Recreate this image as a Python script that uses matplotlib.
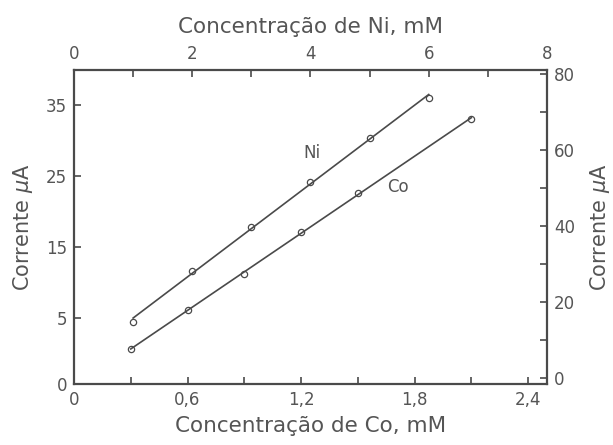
import numpy as np
import matplotlib
matplotlib.use("Agg")
import matplotlib.pyplot as plt

# dados
co_conc = [0.3, 0.6, 0.9, 1.2, 1.5, 2.1]          # mM (eixo inferior)
co_corr = [0.6, 6.1, 11.2, 17.1, 22.6, 33.0]       # uA (eixo esquerdo)
ni_conc = [1, 2, 3, 4, 5, 6]                       # mM (eixo superior)
ni_corr = [14.7, 28.2, 39.7, 51.6, 63.2, 73.7]     # uA (eixo direito)

co_ticks = [0, 0.6, 1.2, 1.8, 2.4]
co_ticklabels = ['0', '0,6', '1,2', '1,8', '2,4']
left_ticks = [5, 15, 25, 35]
ni_ticks = [0, 2, 4, 6, 8]
right_ticks = [0, 20, 40, 60, 80]

gray = '#4a4a4a'
txt = '#555555'
plt.rcParams['font.family'] = 'DejaVu Sans'

fig = plt.figure(figsize=(6.13, 4.45), dpi=100)
pos = [0.1207, 0.1371, 0.7716, 0.7056]
ax = fig.add_axes(pos)
ax2 = fig.add_axes(pos, frameon=False)

# Co: eixo inferior / esquerdo
ax.set_xlim(0, 2.5)
ax.set_ylim(-4.3, 39.9)
ax.plot(co_conc, co_corr, 'o', mfc='white', mec=gray, ms=4.5, mew=0.9)
p = np.polyfit(co_conc, co_corr, 1)
xs = np.array([co_conc[0], co_conc[-1]])
ax.plot(xs, np.polyval(p, xs), color=gray, lw=1.2)

ax.set_xticks(co_ticks)
ax.set_xticklabels(co_ticklabels)
ax.set_xticks([0.3, 0.9, 1.5, 2.1], minor=True)
ax.set_yticks([-4.3] + left_ticks)
ax.set_yticklabels(['0'] + [str(t) for t in left_ticks])
ax.set_xlabel('Concentração de Co, mM', fontsize=15.5, color=txt, labelpad=5)
ax.set_ylabel('Corrente $\\mu$A', fontsize=15, color=txt, labelpad=8)

# Ni: eixo superior / direito
ax2.set_xlim(0, 8)
ax2.set_ylim(-1.6, 81.05)
ax2.plot(ni_conc, ni_corr, 'o', mfc='white', mec=gray, ms=4.5, mew=0.9)
p2 = np.polyfit(ni_conc, ni_corr, 1)
xs2 = np.array([ni_conc[0], ni_conc[-1]])
ax2.plot(xs2, np.polyval(p2, xs2), color=gray, lw=1.2)

ax2.xaxis.set_ticks_position('top')
ax2.xaxis.set_label_position('top')
ax2.yaxis.set_ticks_position('right')
ax2.yaxis.set_label_position('right')
ax2.set_xticks(ni_ticks)
ax2.set_xticks([1, 3, 5, 7], minor=True)
ax2.set_yticks(right_ticks)
ax2.set_yticks([10, 30, 50, 70], minor=True)
ax2.set_xlabel('Concentração de Ni, mM', fontsize=15.5, color=txt, labelpad=9)
ax2.set_ylabel('Corrente $\\mu$A', fontsize=15, color=txt, labelpad=9)

for a in (ax, ax2):
    a.tick_params(which='both', direction='in', length=5, width=1.2,
                  colors=gray, labelsize=12, labelcolor=txt, pad=5)
for s in ax.spines.values():
    s.set_linewidth(1.6)
    s.set_color(gray)

ax.text(0.503, 0.736, 'Ni', transform=ax.transAxes, fontsize=12,
        color=txt, ha='center', va='center')
ax.text(0.685, 0.627, 'Co', transform=ax.transAxes, fontsize=12,
        color=txt, ha='center', va='center')

fig.savefig('out.png', dpi=100)
